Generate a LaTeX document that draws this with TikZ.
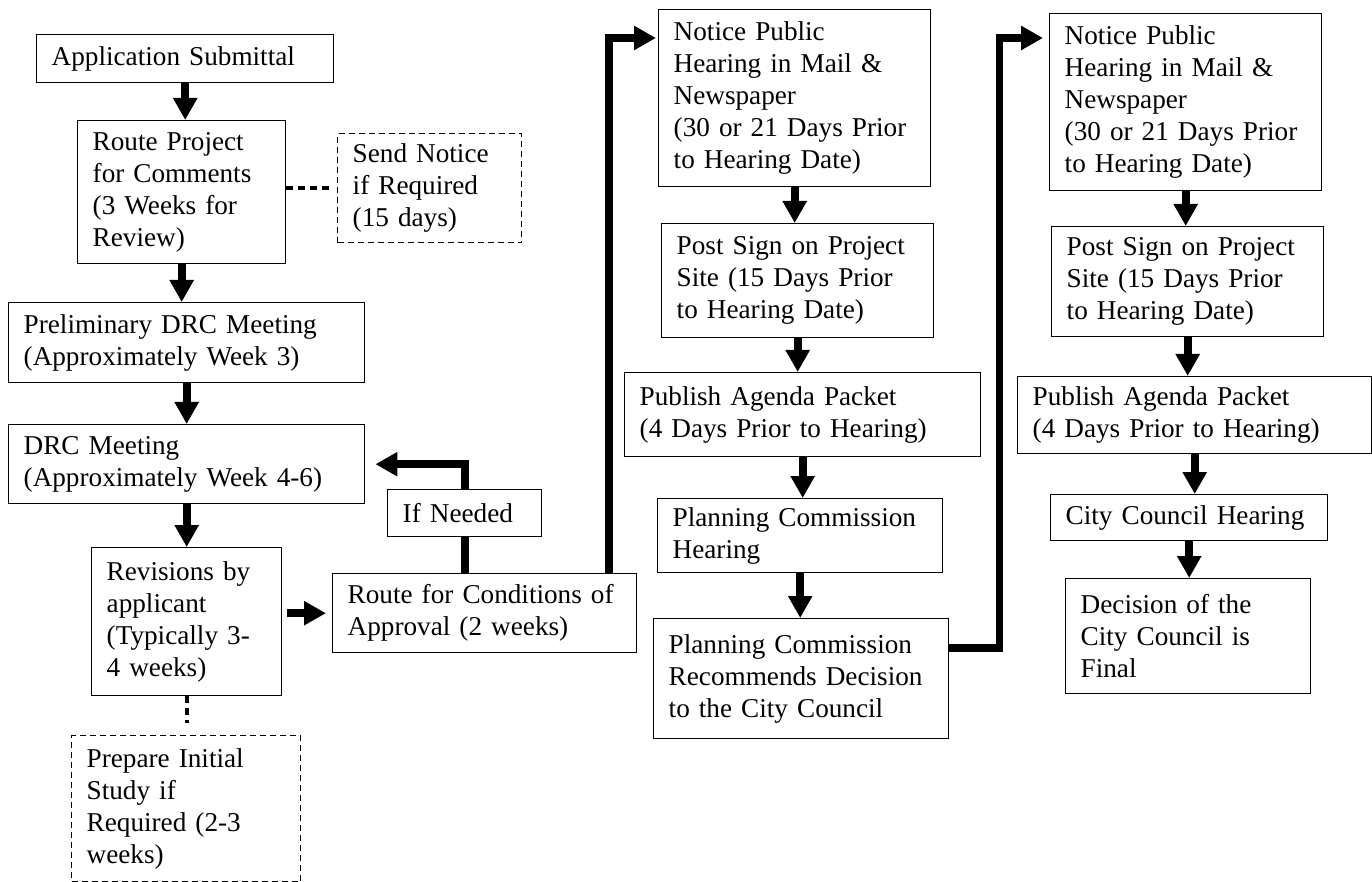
\documentclass[tikz,border=0pt]{standalone}
\usepackage{fontspec}
\setmainfont{Liberation Serif}
\usepackage{tikz}
\usetikzlibrary{arrows.meta}

\tikzset{
  stepbox/.style={draw, line width=0.7pt, anchor=north west, align=left,
    inner xsep=7.5pt, inner ysep=3pt, font=\fontsize{13.6}{16}\selectfont},
  optbox/.style={stepbox, dash pattern=on 3pt off 2pt},
  flowarrow/.style={line width=3.8pt, line join=miter, -{Triangle[width=11.5pt,length=11pt]}},
  thickline/.style={line width=3.8pt, line join=miter},
  dotlink/.style={line width=2pt, dash pattern=on 3.5pt off 2.5pt}
}

\begin{document}
\begin{tikzpicture}[x=0.5pt, y=-0.5pt]
  \useasboundingbox (0,0) rectangle (1372,882);

  % Review column
  \node[stepbox, text width=133.5pt, minimum height=24pt] (appl) at (36,34) {Application Submittal};
  \node[stepbox, text width=89pt, minimum height=71.5pt] (route) at (77,120) {Route Project\\for Comments\\(3 Weeks for\\Review)};
  \node[optbox, text width=77pt, minimum height=54.5pt] (send) at (337,133) {Send Notice\\if Required\\(15 days)};
  \node[stepbox, text width=163pt, minimum height=40pt] (prelim) at (8,302) {Preliminary DRC Meeting\\(Approximately Week 3)};
  \node[stepbox, text width=163pt, minimum height=39.5pt] (drc) at (8,424) {DRC Meeting\\(Approximately Week 4-6)};
  \node[stepbox, text width=62pt, minimum height=23.5pt] (ifneed) at (387,489) {If Needed};
  \node[stepbox, text width=80pt, minimum height=74pt] (revis) at (91,547) {Revisions by\\applicant\\(Typically 3-\\4 weeks)};
  \node[stepbox, text width=137pt, minimum height=39.5pt] (condit) at (332,573) {Route for Conditions of\\Approval (2 weeks)};
  \node[optbox, text width=99.5pt, minimum height=73pt] (prep) at (71,735) {Prepare Initial\\Study if\\Required (2-3\\weeks)};

  % Planning Commission column
  \node[stepbox, text width=121pt, minimum height=88.5pt] (notice1) at (658,9) {Notice Public\\Hearing in Mail \&\\Newspaper\\(30 or 21 Days Prior\\to Hearing Date)};
  \node[stepbox, text width=121pt, minimum height=57pt] (post1) at (661,223) {Post Sign on Project\\Site (15 Days Prior\\to Hearing Date)};
  \node[stepbox, text width=163pt, minimum height=42pt] (pub1) at (624,372) {Publish Agenda Packet\\(4 Days Prior to Hearing)};
  \node[stepbox, text width=127.5pt, minimum height=37pt] (pch) at (657,498) {Planning Commission\\Hearing};
  \node[stepbox, text width=132.5pt, minimum height=60pt] (pcrec) at (653,618) {Planning Commission\\Recommends Decision\\to the City Council};

  % City Council column
  \node[stepbox, text width=121pt, minimum height=88.5pt] (notice2) at (1049,13) {Notice Public\\Hearing in Mail \&\\Newspaper\\(30 or 21 Days Prior\\to Hearing Date)};
  \node[stepbox, text width=121pt, minimum height=55pt] (post2) at (1051,226) {Post Sign on Project\\Site (15 Days Prior\\to Hearing Date)};
  \node[stepbox, text width=162pt, minimum height=38.5pt] (pub2) at (1017,376) {Publish Agenda Packet\\(4 Days Prior to Hearing)};
  \node[stepbox, text width=123.5pt, minimum height=23pt] (cch) at (1050,494) {City Council Hearing};
  \node[stepbox, text width=107.5pt, minimum height=57.5pt] (decis) at (1065,578) {Decision of the\\City Council is\\Final};

  % Down arrows
  \foreach \a/\b in {appl/route, route/prelim, prelim/drc, drc/revis,
                     notice1/post1, post1/pub1, pub1/pch, pch/pcrec,
                     notice2/post2, post2/pub2, pub2/cch, cch/decis}
    \draw[flowarrow] (\a.south) -- (\a.south |- \b.north);

  % Side links
  \draw[flowarrow, shorten <=2.5pt, shorten >=3pt] (revis.east |- condit.west) -- (condit.west);
  \draw[thickline] (ifneed.south) -- (ifneed.south |- condit.north);
  \draw[flowarrow, shorten >=5pt] (ifneed.north) |- (drc.east);
  \draw[dotlink, shorten >=2.5pt] (route.east |- send.west) -- (send.west);
  \draw[dotlink, shorten >=6pt] (revis.south) -- (revis.south |- prep.north);

  % Risers to the hearing notices
  \coordinate (riser1) at (609,38);
  \coordinate (bend2) at (999.5,648);
  \coordinate (riser2) at (999.5,38);
  \draw[flowarrow, shorten >=1pt] (condit.north -| riser1) |- (notice1.west |- riser1);
  \draw[flowarrow, shorten >=3pt] (pcrec.east |- bend2) -- (bend2) -- (riser2) -- (riser2 -| notice2.west);
\end{tikzpicture}
\end{document}
